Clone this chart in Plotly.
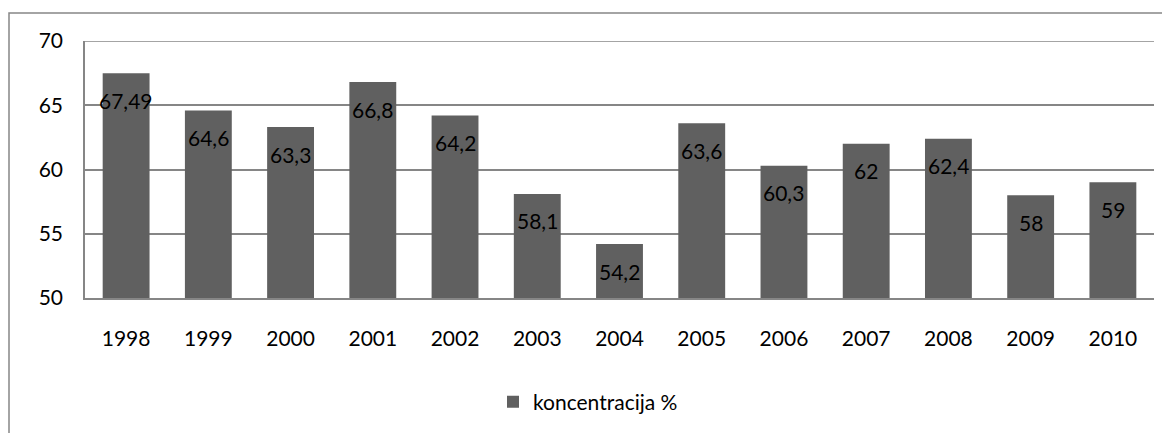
import plotly.graph_objects as go

years = ["1998", "1999", "2000", "2001", "2002", "2003", "2004",
         "2005", "2006", "2007", "2008", "2009", "2010"]
values = [67.49, 64.6, 63.3, 66.8, 64.2, 58.1, 54.2, 63.6, 60.3, 62, 62.4, 58, 59]
series_name = "koncentracija %"
y_ticks = [50, 55, 60, 65, 70]

# page has an 8px body margin; work in page pixel coordinates
OFF = 8
W, H = 1170 - OFF, 433 - OFF
L, R, T, B = 85 - OFF, 1154 - OFF, 41 - OFF, 298 - OFF
ml, mr, mt, mb = L, W - R, T, H - B
pw, ph = R - L, B - T

FONT = "Lato"
BAR = "#606060"
LINE = "#868686"

fig = go.Figure()
fig.add_trace(go.Bar(
    x=years, y=values, name=series_name,
    marker=dict(color=BAR, line=dict(width=0)),
    showlegend=True,
))

def fmt(v):
    return ("%g" % v).replace(".", ",")

for i, v in enumerate(values):
    fig.add_annotation(x=i, y=v, text=fmt(v), showarrow=False,
                       xanchor="center", yanchor="middle", yshift=-27,
                       font=dict(family=FONT, size=21, color="#000000"))

px = lambda p: (p - OFF - L) / pw
py = lambda p: (B - (p - OFF)) / ph
# outer chart border (top & left visible)
fig.add_shape(type="rect", xref="paper", yref="paper",
              x0=px(9), x1=px(1200), y0=py(460), y1=py(13),
              line=dict(color=LINE, width=1.5), fillcolor="rgba(0,0,0,0)",
              layer="below")
# top gridline at 70
fig.add_shape(type="line", xref="paper", yref="y", x0=0, x1=1,
              y0=y_ticks[-1], y1=y_ticks[-1],
              line=dict(color=LINE, width=1.5), layer="below")

fig.update_layout(
    width=W, height=H,
    margin=dict(l=ml, r=mr, t=mt, b=mb, autoexpand=False),
    paper_bgcolor="white", plot_bgcolor="white",
    bargap=0.43,
    font=dict(family=FONT, size=21, color="#000000"),
    legend=dict(orientation="h", x=px(493), xanchor="left", y=py(402),
                yanchor="middle", font=dict(family=FONT, size=21),
                itemwidth=30, bgcolor="rgba(0,0,0,0)"),
    xaxis=dict(type="category", range=[-0.5, len(years) - 0.5],
               showline=True, linecolor=LINE, linewidth=1.5,
               showgrid=False, ticks="", ticklabelstandoff=21,
               tickfont=dict(size=21), fixedrange=True),
    yaxis=dict(range=[50, 70], tickvals=y_ticks, showline=True, linecolor=LINE,
               linewidth=1.5, showgrid=True, gridcolor=LINE, gridwidth=1.5,
               ticks="", ticklabelstandoff=16, tickfont=dict(size=21),
               zeroline=False, fixedrange=True),
)

fig.write_html("out.html")
